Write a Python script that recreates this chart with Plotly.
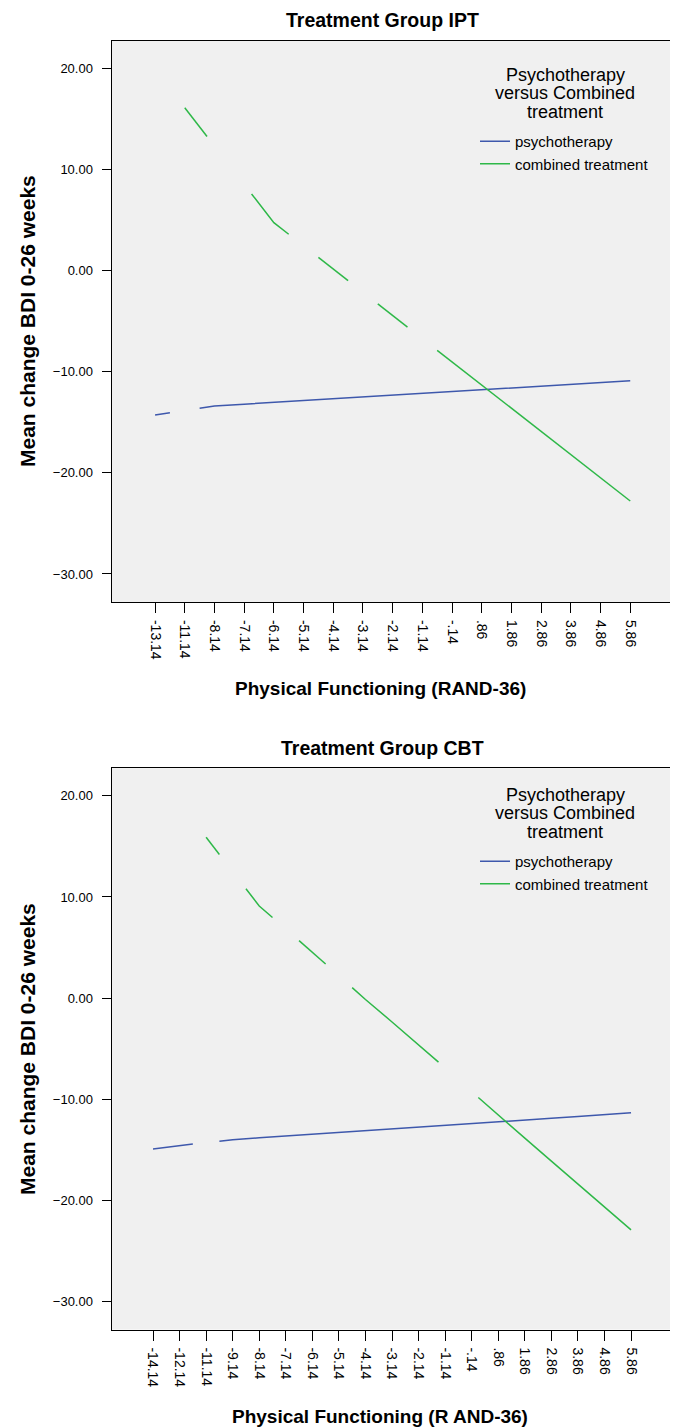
import plotly.graph_objects as go

# ---------------- data ----------------
ipt_categories = ["-13.14", "-11.14", "-8.14", "-7.14", "-6.14", "-5.14", "-4.14", "-3.14",
                  "-2.14", "-1.14", "-.14", ".86", "1.86", "2.86", "3.86", "4.86", "5.86"]
ipt_psychotherapy = [-14.28, None, -13.39, -13.21, -13.03, -12.85, -12.67, -12.50, -12.32,
                     -12.14, -11.96, -11.78, -11.60, -11.42, -11.25, -11.07, -10.89]
ipt_combined = [None, 16.10, None, None, 4.74, None, 0.15, None, -4.44,
                None, -9.03, -11.32, -13.61, -15.90, -18.20, -20.49, -22.78]

cbt_categories = ["-14.14", "-12.14", "-11.14", "-9.14", "-8.14", "-7.14", "-6.14", "-5.14",
                  "-4.14", "-3.14", "-2.14", "-1.14", "-.14", ".86", "1.86", "2.86", "3.86",
                  "4.86", "5.86"]
cbt_psychotherapy = [-14.92, -14.58, None, -14.00, -13.82, -13.65, -13.47, -13.29, -13.12,
                     -12.94, -12.76, -12.58, -12.41, -12.23, -12.06, -11.88, -11.70, -11.52, -11.35]
cbt_combined = [None, None, 15.90, None, 9.11, None, 4.54, None, -0.14, -2.36, -4.58,
                None, None, -11.58, -13.85, -16.12, -18.38, -20.65, -22.92]

y_ticks = [20, 10, 0, -10, -20, -30]
series_names = ["psychotherapy", "combined treatment"]
series_colors = ["#3E58AC", "#2EB848"]
legend_title_lines = ["Psychotherapy", "versus Combined", "treatment"]

# the page body has an 8px margin, so the figure starts at (8, 8) of the window
OFF = 8
W, H = 678 - OFF, 1428 - OFF
FONT = "Arial, Liberation Sans, sans-serif"


def spss_path(vals):
    """Line through category positions; across missing categories SPSS draws
    only the first and last quarter of the connecting segment."""
    pts = [(i, v) for i, v in enumerate(vals) if v is not None]
    xs, ys = [], []
    for k, (i, v) in enumerate(pts):
        if k == 0:
            xs.append(i); ys.append(v)
            continue
        pi, pv = pts[k - 1]
        if i - pi == 1:
            xs.append(i); ys.append(v)
        else:
            d = i - pi
            xs += [pi + 0.25 * d, None, i - 0.25 * d, i]
            ys += [pv + 0.25 * (v - pv), None, v - 0.25 * (v - pv), v]
    return xs, ys


def px_x(p):
    return (p - OFF) / W


def px_y(p):
    return 1 - (p - OFF) / H


fig = go.Figure()

panels = [
    dict(cats=ipt_categories, data=[ipt_psychotherapy, ipt_combined], xa="x", ya="y",
         box=(40.7, 602.0), xrange=[-1.46, 17.44], title="Treatment Group IPT",
         legend="legend", off=0, leg_off=0, xtitle="Physical Functioning (RAND-36)"),
    dict(cats=cbt_categories, data=[cbt_psychotherapy, cbt_combined], xa="x2", ya="y2",
         box=(768.2, 1329.5), xrange=[-1.555, 19.58], title="Treatment Group CBT",
         legend="legend2", off=728, leg_off=720, xtitle="Physical Functioning (R AND-36)"),
]

annotations = []
layout_axes = {}
for p in panels:
    for s, vals in enumerate(p["data"]):
        xs, ys = spss_path(vals)
        fig.add_trace(go.Scatter(
            x=xs, y=ys, mode="lines", name=series_names[s],
            line=dict(color=series_colors[s], width=1.5),
            xaxis=p["xa"], yaxis=p["ya"], legend=p["legend"],
            connectgaps=False, hoverinfo="skip"))
    top, bot = p["box"]
    xkey = "xaxis" if p["xa"] == "x" else "xaxis2"
    ykey = "yaxis" if p["ya"] == "y" else "yaxis2"
    layout_axes[xkey] = dict(
        domain=[px_x(111.7), px_x(673.0)], anchor=p["ya"], range=p["xrange"],
        tickmode="array", tickvals=list(range(len(p["cats"]))), ticktext=p["cats"],
        tickangle=90, ticks="outside", ticklen=10, tickwidth=1, tickcolor="black",
        showline=True, linecolor="black", linewidth=1.3, mirror=True,
        showgrid=False, zeroline=False, ticklabelstandoff=4,
        tickfont=dict(family=FONT, size=14, color="black"))
    layout_axes[ykey] = dict(
        domain=[px_y(bot), px_y(top)], anchor=p["xa"], range=[-32.77, 22.73],
        tickmode="array", tickvals=y_ticks, tickformat=".2f",
        ticks="outside", ticklen=9, tickwidth=1, tickcolor="black",
        showline=True, linecolor="black", linewidth=1.3, mirror=True,
        showgrid=False, zeroline=False, ticklabelstandoff=6,
        tickfont=dict(family=FONT, size=13, color="black"))
    off = p["off"]
    annotations.append(dict(text="<b>" + p["title"] + "</b>", xref="paper", yref="paper",
                            x=px_x(382), y=px_y(20 + off), showarrow=False,
                            xanchor="center", yanchor="middle",
                            font=dict(family=FONT, size=19.5, color="black")))
    annotations.append(dict(text="<b>" + p["xtitle"] + "</b>", xref="paper", yref="paper",
                            x=px_x(380), y=px_y(688 + off), showarrow=False,
                            xanchor="center", yanchor="middle",
                            font=dict(family=FONT, size=19, color="black")))
    annotations.append(dict(text="<b>Mean change BDI 0-26 weeks</b>", xref="paper", yref="paper",
                            x=px_x(27), y=px_y(321 + off), showarrow=False, textangle=-90,
                            xanchor="center", yanchor="middle",
                            font=dict(family=FONT, size=21, color="black")))
    lo = p["leg_off"]
    for li, line in enumerate(legend_title_lines):
        annotations.append(dict(text=line, xref="paper", yref="paper",
                                x=px_x(565), y=px_y(75 + 18.3 * li + lo), showarrow=False,
                                xanchor="center", yanchor="middle",
                                font=dict(family=FONT, size=18, color="black")))
    fig.update_layout(**{p["legend"]: dict(
        x=px_x(475), y=px_y(125 + lo), xanchor="left", yanchor="top",
        bgcolor="rgba(0,0,0,0)", borderwidth=0, itemwidth=30, tracegroupgap=0,
        font=dict(family=FONT, size=15, color="black"))})

fig.update_layout(
    width=W, height=H, margin=dict(l=0, r=0, t=0, b=0, pad=0),
    paper_bgcolor="white", plot_bgcolor="#F0F0F0",
    showlegend=True, annotations=annotations, **layout_axes)

fig.write_html("out.html")
